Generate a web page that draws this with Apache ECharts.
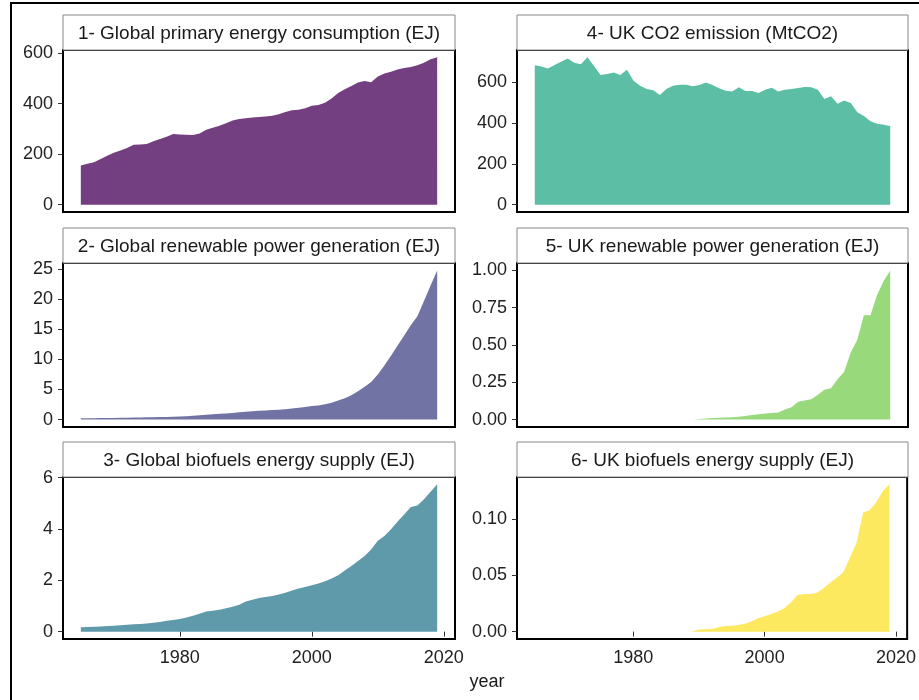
<!DOCTYPE html>
<html>
<head>
<meta charset="utf-8">
<script src="https://cdn.jsdelivr.net/npm/echarts@6/dist/echarts.min.js"></script>
<style>
html,body{margin:0;padding:0;background:#fff;}
#chart{width:919px;height:700px;}
</style>
</head>
<body>
<div id="chart"></div>
<script>
// ---------- DATA ----------
var globalYears = [1965,1966,1967,1968,1969,1970,1971,1972,1973,1974,1975,1976,1977,1978,1979,1980,1981,1982,1983,1984,1985,1986,1987,1988,1989,1990,1991,1992,1993,1994,1995,1996,1997,1998,1999,2000,2001,2002,2003,2004,2005,2006,2007,2008,2009,2010,2011,2012,2013,2014,2015,2016,2017,2018,2019];
var globalPrimaryEnergy = [155,162,168,181,194,205,214,224,237,238,240,251,260,269,280,278,277,276,282,296,304,312,322,333,339,342,345,347,349,352,358,367,374,376,382,391,394,403,420,442,457,470,483,489,484,507,519,526,535,541,545,552,562,576,583];
var globalRenewablePower = [0.20,0.21,0.22,0.24,0.26,0.27,0.29,0.31,0.33,0.35,0.37,0.39,0.41,0.44,0.47,0.50,0.55,0.62,0.70,0.80,0.88,0.95,1.02,1.10,1.20,1.30,1.38,1.45,1.52,1.58,1.65,1.72,1.85,1.98,2.10,2.25,2.35,2.55,2.80,3.15,3.55,4.05,4.70,5.45,6.25,7.50,9.00,10.60,12.30,14.00,15.70,17.20,19.70,22.30,24.80];
var globalBiofuels = [0.17,0.18,0.19,0.20,0.22,0.23,0.25,0.27,0.29,0.30,0.32,0.35,0.38,0.42,0.45,0.49,0.55,0.62,0.70,0.78,0.81,0.85,0.91,0.97,1.05,1.17,1.24,1.31,1.35,1.39,1.45,1.52,1.60,1.68,1.74,1.81,1.88,1.96,2.07,2.20,2.38,2.56,2.75,2.95,3.20,3.54,3.73,3.99,4.29,4.57,4.86,4.92,5.16,5.45,5.74];
var ukCO2 = [684,678,668,686,702,718,697,689,723,681,636,641,649,636,662,608,584,568,561,538,568,584,589,589,581,587,600,587,571,559,555,576,558,558,548,564,574,555,564,568,572,577,576,564,519,532,495,511,499,454,435,409,397,392,386];
var ukYears = [1989,1990,1991,1992,1993,1994,1995,1996,1997,1998,1999,2000,2001,2002,2003,2004,2005,2006,2007,2008,2009,2010,2011,2012,2013,2014,2015,2016,2017,2018,2019];
var ukRenewablePower = [0.001,0.003,0.007,0.010,0.012,0.014,0.016,0.018,0.024,0.030,0.035,0.040,0.044,0.048,0.068,0.082,0.120,0.127,0.136,0.166,0.200,0.210,0.270,0.320,0.450,0.535,0.700,0.700,0.835,0.930,1.000];
var ukBiofuels = [0.0003,0.0020,0.0022,0.0024,0.0040,0.0050,0.0053,0.0060,0.0070,0.0090,0.0120,0.0136,0.0157,0.0178,0.0210,0.0260,0.0325,0.0334,0.0334,0.0346,0.0388,0.0438,0.0480,0.0530,0.0660,0.0790,0.1060,0.1080,0.1150,0.1250,0.1310];

var panelTitles = [
  "1- Global primary energy consumption (EJ)",
  "2- Global renewable power generation (EJ)",
  "3- Global biofuels energy supply (EJ)",
  "4- UK CO2 emission (MtCO2)",
  "5- UK renewable power generation (EJ)",
  "6- UK biofuels energy supply (EJ)"
];
var yTicks = [
  [0,200,400,600],
  [0,5,10,15,20,25],
  [0,2,4,6],
  [0,200,400,600],
  [0,0.25,0.5,0.75,1],
  [0,0.05,0.1]
];
var yDecimals = [0,0,0,0,2,2];
var xTicks = [1980,2000,2020];
var xAxisTitle = "year";

// ---------- BUILD ----------
var panelData = [
  [globalYears, globalPrimaryEnergy],
  [globalYears, globalRenewablePower],
  [globalYears, globalBiofuels],
  [globalYears, ukCO2],
  [ukYears, ukRenewablePower],
  [ukYears, ukBiofuels]
];
var colors = ['#733f80','#7073a4','#5f9aab','#5bbea5','#98d97b','#fde95f'];

var FONT = 'Liberation Sans, Arial, sans-serif';
var colLeft = [63, 517], colWidth = [392, 391];
var rowTop = [50, 263, 477], rowHeight = [162, 164, 162];
var stripH = 35;

var xMinData = 1965, xMaxData = 2019;
var xPad = (xMaxData - xMinData) * 0.05;

var grids = [], xAxes = [], yAxes = [], series = [], graphics = [];

graphics.push({type:'rect', shape:{x:11,y:3,width:2000,height:2000}, style:{fill:'none', stroke:'#000', lineWidth:2}, z:0});

for (var p = 0; p < 6; p++) {
  var col = p < 3 ? 0 : 1, row = p % 3;
  var L = colLeft[col], T = rowTop[row], W = colWidth[col], H = rowHeight[row];
  grids.push({left:L, top:T, width:W, height:H, show:true, borderColor:'#000', borderWidth:2, backgroundColor:'#fff', containLabel:false});
  var xs = panelData[p][0], ys = panelData[p][1];
  var ymax = Math.max.apply(null, ys);
  var ypad = ymax * 0.05;
  var isBottom = row === 2;
  xAxes.push({
    type:'value', gridIndex:p, min:xMinData - xPad, max:xMaxData + xPad,
    axisLine:{show:false}, splitLine:{show:false},
    axisTick:{show:isBottom, customValues:xTicks, length:5, lineStyle:{color:'#333', width:1}},
    axisLabel:{show:isBottom, customValues:xTicks, margin:10, color:'#222', fontSize:18, fontFamily:FONT, formatter:function(v){return String(v);}}
  });
  (function(dec){
    yAxes.push({
      type:'value', gridIndex:p, min:-ypad, max:ymax + ypad,
      axisLine:{show:false}, splitLine:{show:false},
      axisTick:{show:true, customValues:yTicks[p], length:5, lineStyle:{color:'#333', width:1}},
      axisLabel:{customValues:yTicks[p], margin:10, color:'#222', fontSize:18, fontFamily:FONT, formatter:function(v){return Number(v).toFixed(dec);}}
    });
  })(yDecimals[p]);
  var pts = xs.map(function(x,i){return [x, ys[i]];});
  series.push({
    type:'line', xAxisIndex:p, yAxisIndex:p, data:pts, showSymbol:false, symbol:'none',
    lineStyle:{width:0}, areaStyle:{color:colors[p], opacity:1, origin:'auto'}, silent:true, animation:false
  });
  graphics.push({type:'rect', shape:{x:L, y:T - stripH, width:W, height:stripH}, style:{fill:'#fff', stroke:'#888', lineWidth:1}, z:10});
  graphics.push({type:'text', x:L + W/2, y:T - stripH/2 + 1, style:{text:panelTitles[p], fill:'#1a1a1a', font:'19px ' + FONT, textAlign:'center', textVerticalAlign:'middle'}, z:11});
}
graphics.push({type:'text', x:487, y:682, style:{text:xAxisTitle, fill:'#1a1a1a', font:'18px ' + FONT, textAlign:'center', textVerticalAlign:'middle'}, z:11});

var chart = echarts.init(document.getElementById('chart'), null, {renderer:'canvas'});
chart.setOption({
  animation:false,
  backgroundColor:'#fff',
  grid:grids, xAxis:xAxes, yAxis:yAxes, series:series,
  graphic:graphics
});
</script>
</body>
</html>
